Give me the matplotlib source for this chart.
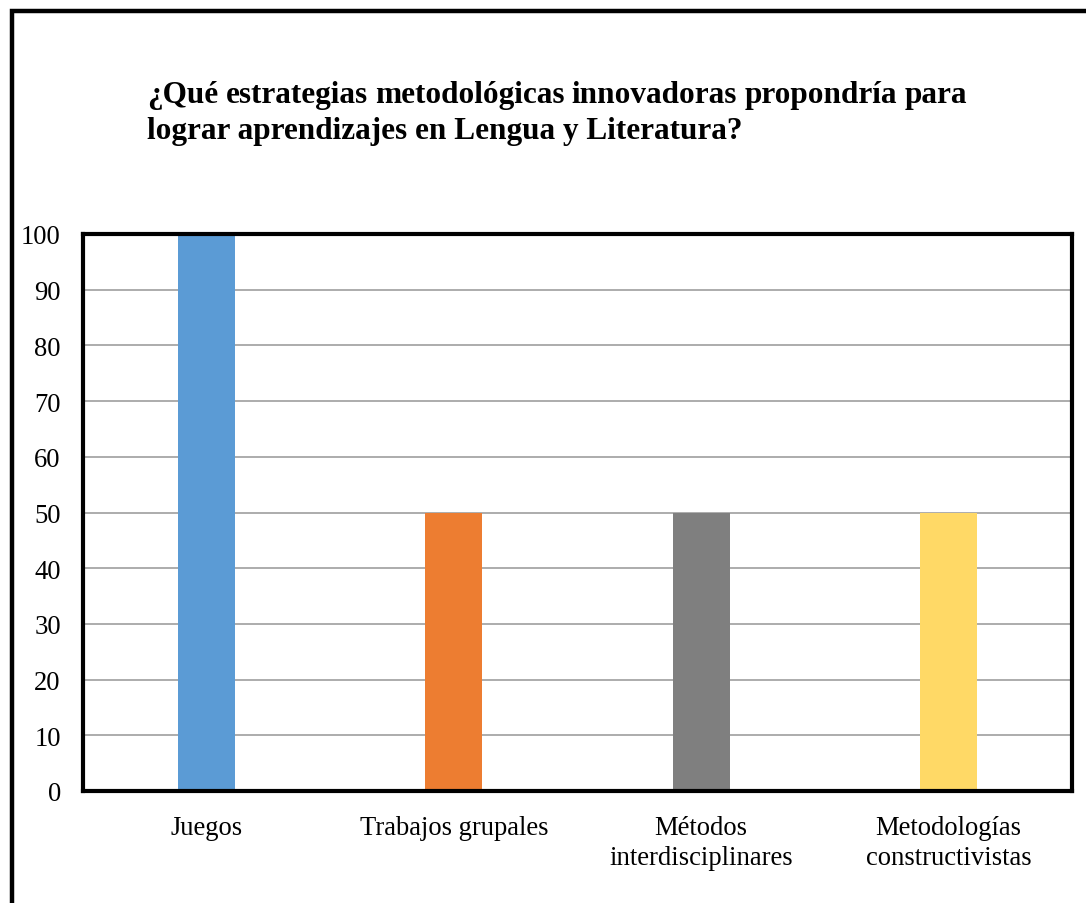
import numpy as np
import matplotlib.pyplot as plt
from matplotlib.patches import Rectangle

categorias = ["Juegos", "Trabajos grupales", "Métodos\ninterdisciplinares",
              "Metodologías\nconstructivistas"]
valores = [100, 50, 50, 50]
colores = ["#5B9BD5", "#ED7D31", "#7F7F7F", "#FFD966"]
titulo_1 = "¿Qué estrategias metodológicas innovadoras propondría para"
titulo_2 = "lograr aprendizajes en Lengua y Literatura?"

plt.rcParams['font.family'] = ['Liberation Serif', 'DejaVu Serif']

W, H = 1086, 904
fig = plt.figure(figsize=(W / 100, H / 100), dpi=100)

# marco exterior (se sale por la derecha y por abajo)
fig.patches.append(Rectangle((11.5 / W, -0.1), 1.2, 1.1 - 11.5 / H,
                             transform=fig.transFigure, fill=False,
                             ec="black", lw=3.2, clip_on=False))

ax = fig.add_axes([83 / W, 1 - 792 / H, (1072 - 83) / W, (792 - 235) / H])
x = np.arange(len(categorias))
ax.bar(x, valores, width=0.23, color=colores, zorder=2)
ax.set_xlim(-0.5, len(categorias) - 0.5)
ax.set_ylim(0, 100)
ax.set_yticks(np.arange(0, 101, 10))
ax.set_xticks(x)
ax.set_xticklabels(categorias, fontsize=19.2, linespacing=1.3)
ax.tick_params(axis='y', length=0, pad=16, labelsize=19.2)
ax.tick_params(axis='x', length=0, pad=17)
ax.grid(axis='y', color="#A6A6A6", lw=1.3, zorder=1)
for s in ax.spines.values():
    s.set_linewidth(3)
    s.set_color("black")

# título justificado: primera línea repartida entre x=147 y x=967
r = fig.canvas.get_renderer()
x0, x1 = 147, 967
palabras = titulo_1.split()
objs = [fig.text(0, 1 - 103 / H, p, fontsize=22.5, fontweight='bold')
        for p in palabras]
anchos = [t.get_window_extent(r).width for t in objs]
hueco = (x1 - x0 - sum(anchos)) / (len(palabras) - 1)
pos = x0
for t, w in zip(objs, anchos):
    t.set_x(pos / W)
    pos += w + hueco
fig.text(x0 / W, 1 - 139 / H, titulo_2, fontsize=22.5, fontweight='bold')

fig.savefig("out.png", dpi=100)
